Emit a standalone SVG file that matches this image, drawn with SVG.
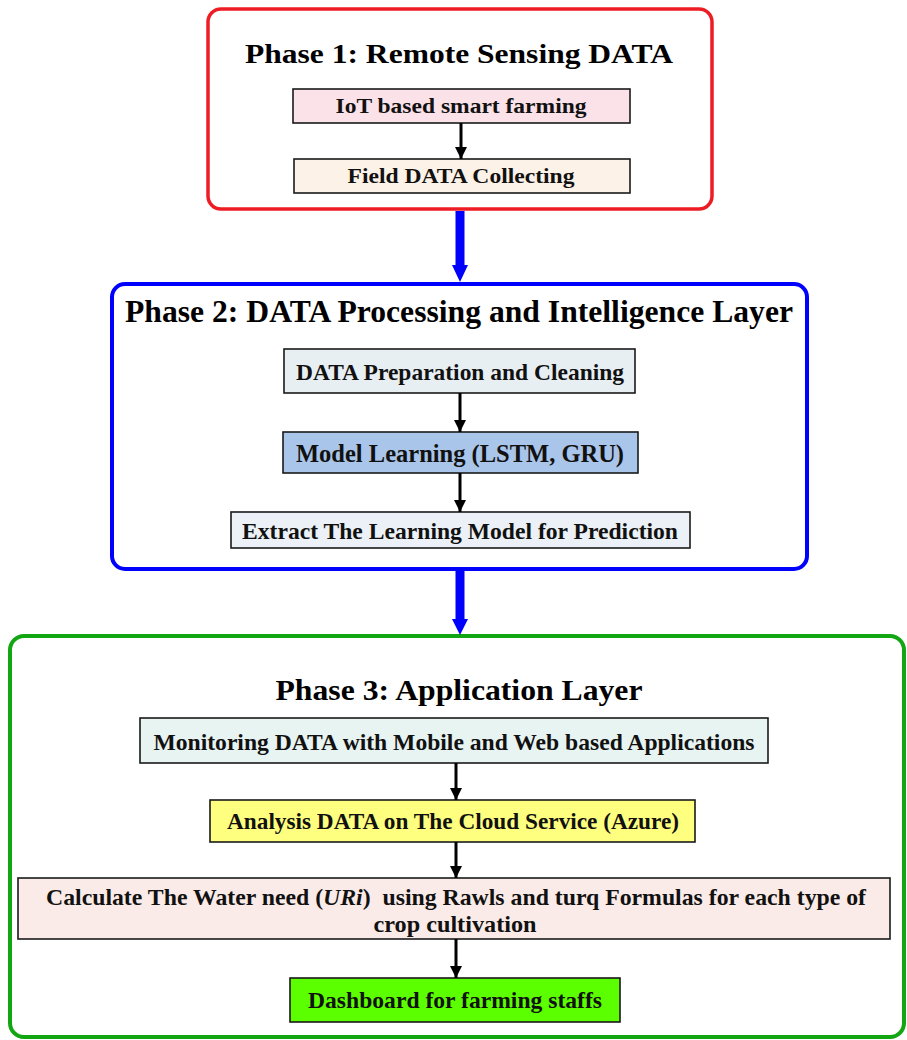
<svg xmlns="http://www.w3.org/2000/svg" width="907" height="1040" viewBox="0 0 907 1040">
  <style>
    .phase { fill: #ffffff; }
    .box { stroke: #1a1a1a; stroke-width: 1.6; }
    .title { font-family: "Liberation Serif", "Times New Roman", serif; font-weight: 700; fill: #000; }
    .label { font-family: "Liberation Serif", "Times New Roman", serif; font-weight: 700; fill: #111; }
    .flow { stroke: #000; stroke-width: 3; fill: none; marker-end: url(#blackHead); }
  </style>
  <defs>
    <marker id="blackHead" viewBox="0 0 10 10" refX="10" refY="5" markerWidth="4" markerHeight="4" orient="auto" markerUnits="strokeWidth">
      <path d="M0,0 L10,5 L0,10 Z" fill="#000"/>
    </marker>
  </defs>

  <!-- Phase 1 -->
  <g id="phase1">
    <rect class="phase" x="208" y="9" width="504" height="200" rx="13" stroke="#ee1c24" stroke-width="3.5"/>
    <text class="title" x="459" y="63" font-size="28" text-anchor="middle" textLength="428" lengthAdjust="spacingAndGlyphs">Phase 1: Remote Sensing DATA</text>
  </g>
  <g id="iot">
    <rect class="box" x="293" y="89" width="337" height="34" fill="#fbe1e8"/>
    <text class="label" x="461" y="113" font-size="21" text-anchor="middle" textLength="251" lengthAdjust="spacingAndGlyphs">IoT based smart farming</text>
  </g>
  <g id="field">
    <rect class="box" x="294" y="159" width="336" height="34" fill="#fdf2e7"/>
    <text class="label" x="461" y="183" font-size="21" text-anchor="middle" textLength="227" lengthAdjust="spacingAndGlyphs">Field DATA Collecting</text>
  </g>

  <!-- Phase 2 -->
  <g id="phase2">
    <rect class="phase" x="112" y="284" width="695" height="285" rx="13" stroke="#0000ff" stroke-width="4"/>
    <text class="title" x="459" y="322" font-size="31" text-anchor="middle" textLength="668" lengthAdjust="spacingAndGlyphs">Phase 2: DATA Processing and Intelligence Layer</text>
  </g>
  <g id="prep">
    <rect class="box" x="284" y="349" width="351" height="44" fill="#e8eff3"/>
    <text class="label" x="460" y="380" font-size="24" text-anchor="middle" textLength="328" lengthAdjust="spacingAndGlyphs">DATA Preparation and Cleaning</text>
  </g>
  <g id="model">
    <rect class="box" x="283" y="432" width="355" height="41" fill="#a9c5e9"/>
    <text class="label" x="460" y="462" font-size="25" text-anchor="middle" textLength="328" lengthAdjust="spacingAndGlyphs">Model Learning (LSTM, GRU)</text>
  </g>
  <g id="extract">
    <rect class="box" x="231" y="512" width="459" height="36" fill="#ebf1f6"/>
    <text class="label" x="460" y="539" font-size="24" text-anchor="middle" textLength="436" lengthAdjust="spacingAndGlyphs">Extract The Learning Model for Prediction</text>
  </g>

  <!-- Phase 3 -->
  <g id="phase3">
    <rect class="phase" x="10" y="636" width="894" height="401" rx="14" stroke="#13a613" stroke-width="4"/>
    <text class="title" x="459" y="700" font-size="29" text-anchor="middle" textLength="367" lengthAdjust="spacingAndGlyphs">Phase 3: Application Layer</text>
  </g>
  <g id="monitor">
    <rect class="box" x="140" y="718" width="628" height="45" fill="#e8f4f1"/>
    <text class="label" x="454" y="750" font-size="24" text-anchor="middle" textLength="601" lengthAdjust="spacingAndGlyphs">Monitoring DATA with Mobile and Web based Applications</text>
  </g>
  <g id="analysis">
    <rect class="box" x="210" y="800" width="485" height="42" fill="#ffff7f"/>
    <text class="label" x="453" y="829" font-size="24" text-anchor="middle" textLength="452" lengthAdjust="spacingAndGlyphs">Analysis DATA on The Cloud Service (Azure)</text>
  </g>
  <g id="calculate">
    <rect class="box" x="18" y="878" width="872" height="61" fill="#fbebe8"/>
    <text class="label" xml:space="preserve" x="456" y="905" font-size="24" text-anchor="middle" textLength="820" lengthAdjust="spacingAndGlyphs">Calculate The Water need (<tspan font-style="italic">URi</tspan>)  using Rawls and turq Formulas for each type of</text>
    <text class="label" x="455" y="932" font-size="24" text-anchor="middle" textLength="163" lengthAdjust="spacingAndGlyphs">crop cultivation</text>
  </g>
  <g id="dashboard">
    <rect class="box" x="290" y="978" width="330" height="44" fill="#5cff00"/>
    <text class="label" x="455" y="1008" font-size="24" text-anchor="middle" textLength="294" lengthAdjust="spacingAndGlyphs">Dashboard for farming staffs</text>
  </g>

  <!-- Connectors -->
  <g id="connectors">
    <line class="flow" x1="461" y1="123" x2="461" y2="159"/>
    <line class="flow" x1="460" y1="393" x2="460" y2="432"/>
    <line class="flow" x1="460" y1="473" x2="460" y2="512"/>
    <line class="flow" x1="456" y1="763" x2="456" y2="800"/>
    <line class="flow" x1="456" y1="842" x2="456" y2="878"/>
    <line class="flow" x1="456" y1="939" x2="456" y2="978"/>
    <!-- thick blue links between phases -->
    <path d="M455.5,211 H464.5 V265 H468 L460,282 L452,265 H455.5 Z" fill="#0000ff"/>
    <path d="M455.5,571 H464.5 V619 H468 L460,635 L452,619 H455.5 Z" fill="#0000ff"/>
  </g>
</svg>
